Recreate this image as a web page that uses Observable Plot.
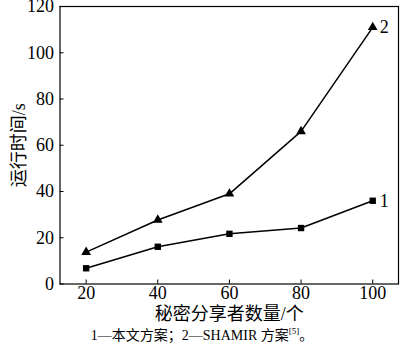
<!DOCTYPE html>
<html><head><meta charset="utf-8">
<script src="https://cdn.jsdelivr.net/npm/d3@7"></script>
<script src="https://cdn.jsdelivr.net/npm/@observablehq/plot@0.6"></script>
<style>
body{margin:0;background:#fff;}
#wrap{width:400px;}
#cap{font-family:"Liberation Serif","Noto Sans CJK SC",serif;font-size:14px;text-align:center;width:400px;margin-top:1px;line-height:18px;color:#000;padding-left:2px;}
#cap sup{font-size:9px;line-height:0;}
</style></head>
<body><div id="wrap"></div><div id="cap">1—本文方案；2—SHAMIR 方案<sup>[5]</sup>。</div>
<script>
const shareholders = [20, 40, 60, 80, 100];
const scheme1 = [6.8, 16.1, 21.7, 24.2, 36];
const scheme2 = [13.8, 27.7, 39, 66, 111];
const seriesLabels = ["1", "2"];
const xTicks = [20, 40, 60, 80, 100];
const yTicks = [0, 20, 40, 60, 80, 100, 120];
const xTitle = ["秘密分享者数量/个"];
const yTitle = "运行时间/s";

const d1 = shareholders.map((x, i) => ({x, y: scheme1[i]}));
const d2 = shareholders.map((x, i) => ({x, y: scheme2[i]}));
const ends = [
  {x: shareholders[4], y: scheme1[4], label: seriesLabels[0]},
  {x: shareholders[4], y: scheme2[4], label: seriesLabels[1]}
];
const font = '"Liberation Serif","Noto Sans CJK SC",serif';

const chart = Plot.plot({
  width: 400,
  height: 326,
  marginLeft: 59.5,
  marginRight: 2,
  marginTop: 6,
  marginBottom: 42.5,
  style: {fontFamily: font, fontSize: "18px", color: "#000", background: "#fff", overflow: "visible"},
  x: {domain: [12.7, 107.2]},
  y: {domain: [0, 120]},
  marks: [
    Plot.frame({stroke: "#000", strokeWidth: 1.2}),
    Plot.axisX({ticks: xTicks, tickSize: -4, tickPadding: 6, label: null, fontSize: 18}),
    Plot.axisY({ticks: yTicks, tickSize: -4, tickPadding: 10, label: yTitle, labelAnchor: "center", labelArrow: "none", labelOffset: 48, fontSize: 18}),
    Plot.text(xTitle, {frameAnchor: "bottom", dy: 30, lineAnchor: "middle", text: d => d, fontSize: 18, fill: "#000"}),
    Plot.line(d1, {x: "x", y: "y", stroke: "#000", strokeWidth: 1.5}),
    Plot.line(d2, {x: "x", y: "y", stroke: "#000", strokeWidth: 1.5}),
    Plot.dot(d1, {x: "x", y: "y", symbol: "square", fill: "#000", r: 3.6}),
    Plot.dot(d2, {x: "x", y: "y", symbol: "triangle", fill: "#000", r: 3.6}),
    Plot.text(ends, {x: "x", y: "y", text: "label", textAnchor: "start", dx: 7, fontSize: 18, fill: "#000"})
  ]
});
document.getElementById("wrap").appendChild(chart);
</script>
</body></html>
